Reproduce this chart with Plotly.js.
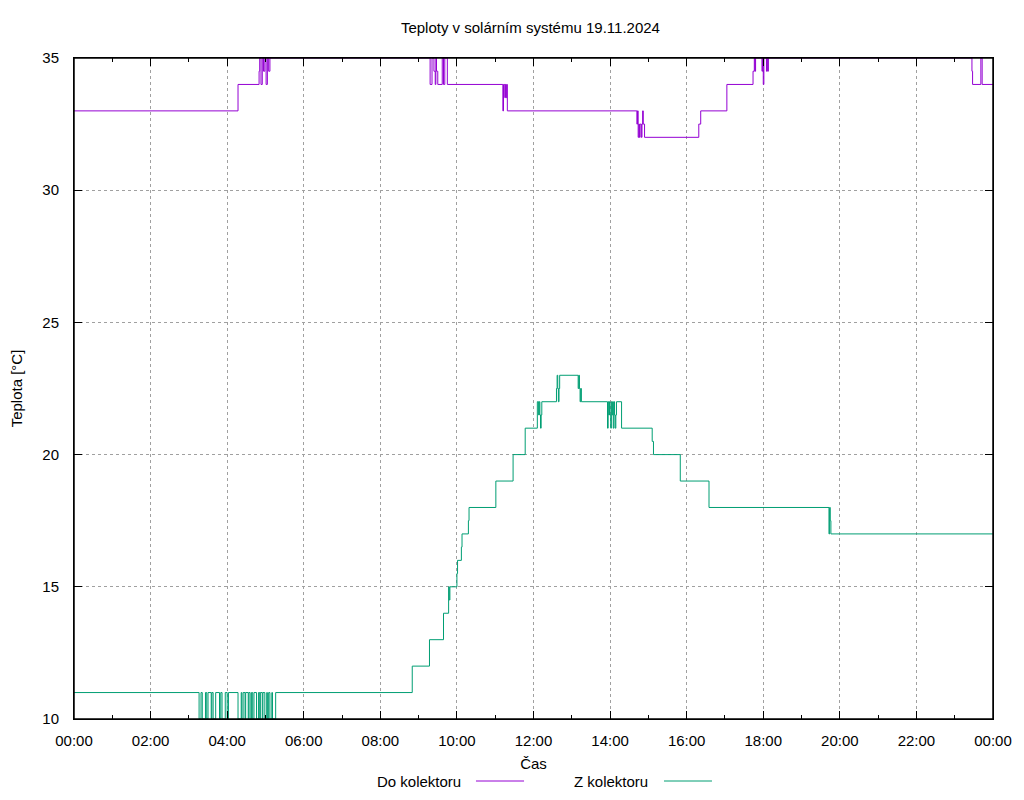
<!DOCTYPE html>
<html>
<head>
<meta charset="utf-8">
<script src="https://cdn.plot.ly/plotly-3.0.1.min.js"></script>
<style>html,body{margin:0;padding:0;background:#fff;}#chart{width:1024px;height:800px;}</style>
</head>
<body>
<div id="chart"></div>
<script>
// time in minutes since midnight, temperature in °C (step data)
const doTime = [0,257,290,291,293,295,297,299,301,303,305,307,558,561,564,566,567,568,570,577,579,581,585,672,673,675,676,677,678,679,882,883,884,885,886,887,889,890,891,892,894,979,982,1023,1064,1066,1067,1068,1078,1079,1080,1081,1085,1086,1087,1088,1407,1408,1421,1423,1440];
const doTemp = [33,34,34.5,35,34,35,34.5,35,34,35,34.5,35,34,35,34.5,34,35,34.5,34,35,34,35,34,33,34,33.5,34,33.5,34,33,32.5,33,32,32.5,32,32.5,32,32.5,33,32.5,32,32.5,33,34,34.5,35,34.5,35,34.5,35,34,35,34.5,35,34.5,35,34.5,34,35,34,34];

const zTime = [0,196,199,201,206,208,210,215,216,218,222,228,230,232,237,240,242,257,262,263,265,268,269,273,274,276,278,280,282,286,289,291,292,295,296,299,302,303,305,307,310,311,316,
  530,557,579,587,588,589,600,601,607,608,618,619,661,688,707,
  726,728,729,730,731,732,733,756,757,758,759,760,761,790,791,792,793,794,795,
  836,837,838,839,840,841,842,843,844,845,846,847,848,849,850,858,906,908,950,995,1183,1184,1185,1186,1440];
const zTemp = [11,10,11,10,11,10,11,10,11,10,11,10,11,10,11,10,11,10,11,10,11,10,11,10,11,10,11,10,11,10,11,10,11,10,11,10,11,10,11,10,11,10,11,
  12,13,14,15,14.5,15,15.5,16,16.5,17,17.5,18,19,20,21,
  22,21.5,22,21.5,21,21.5,22,22.5,23,22.5,22,22.5,23,22.5,23,22.5,22,22.5,22,
  21,22,21.5,22,21.5,21,22,21.5,22,21,22,21.5,21,21.5,22,21,20.5,20,19,18,17,18,17.5,17,17];

const xTickVals = [0,120,240,360,480,600,720,840,960,1080,1200,1320,1440];
const xTickText = ["00:00","02:00","04:00","06:00","08:00","10:00","12:00","14:00","16:00","18:00","20:00","22:00","00:00"];
const yTickVals = [10,15,20,25,30,35];

const seriesNames = ["Do kolektoru","Z kolektoru"];
const colors = ["#9400d3","#009e73"];

const traces = [
  {x: doTime, y: doTemp, type:'scatter', mode:'lines', line:{shape:'hv', color:colors[0], width:1}, name:seriesNames[0], showlegend:false},
  {x: zTime, y: zTemp, type:'scatter', mode:'lines', line:{shape:'hv', color:colors[1], width:1}, name:seriesNames[1], showlegend:false}
];

const font = {family:'"Liberation Sans", Arial, sans-serif', size:15, color:'#000'};

const layout = {
  width:1024, height:800,
  margin:{l:74, r:31, t:58, b:81},
  paper_bgcolor:'#fff', plot_bgcolor:'#fff',
  font: font,
  title:{text:'Teploty v solárním systému 19.11.2024', font:{family:font.family, size:15, color:'#000'}, x:0.518, xanchor:'center', y:0.965, yanchor:'middle'},
  xaxis:{
    range:[0,1440], tickvals:xTickVals, ticktext:xTickText,
    ticks:'inside', ticklen:8, tickcolor:'#000', tickwidth:1,
    showline:true, linecolor:'#000', linewidth:1, mirror:'allticks',
    showgrid:true, gridcolor:'#a0a0a0', griddash:'dot', gridwidth:1,
    zeroline:false, tickfont:font, ticklabelstandoff:8, layer:'above traces',
    minor:{dtick:60, tick0:0, ticks:'inside', ticklen:4, tickcolor:'#000', showgrid:false},
    title:{text:'Čas', font:font, standoff:10}
  },
  yaxis:{
    range:[10,35], tickvals:yTickVals,
    ticks:'inside', ticklen:8, tickcolor:'#000', tickwidth:1,
    showline:true, linecolor:'#000', linewidth:1, mirror:'allticks',
    showgrid:true, gridcolor:'#a0a0a0', griddash:'dot', gridwidth:1,
    zeroline:false, tickfont:font, ticklabelstandoff:11, layer:'above traces',
    title:{text:'Teplota [°C]', font:font, standoff:16}
  },
  annotations:[
    {xref:'paper', yref:'paper', x:0.4233, y:-0.0938, xanchor:'right', yanchor:'middle', text:seriesNames[0], showarrow:false, font:font},
    {xref:'paper', yref:'paper', x:0.6268, y:-0.0938, xanchor:'right', yanchor:'middle', text:seriesNames[1], showarrow:false, font:font}
  ],
  shapes:[
    {type:'rect', xref:'paper', yref:'paper', x0:0, x1:1, y0:0, y1:1, line:{color:'#000', width:1.5}, layer:'above'},
    {type:'line', xref:'paper', yref:'paper', x0:0.4374, x1:0.4897, y0:-0.0938, y1:-0.0938, line:{color:colors[0], width:1}},
    {type:'line', xref:'paper', yref:'paper', x0:0.642, x1:0.6942, y0:-0.0938, y1:-0.0938, line:{color:colors[1], width:1}}
  ],
  showlegend:false
};

Plotly.newPlot('chart', traces, layout, {displayModeBar:false, staticPlot:true});
</script>
</body>
</html>
